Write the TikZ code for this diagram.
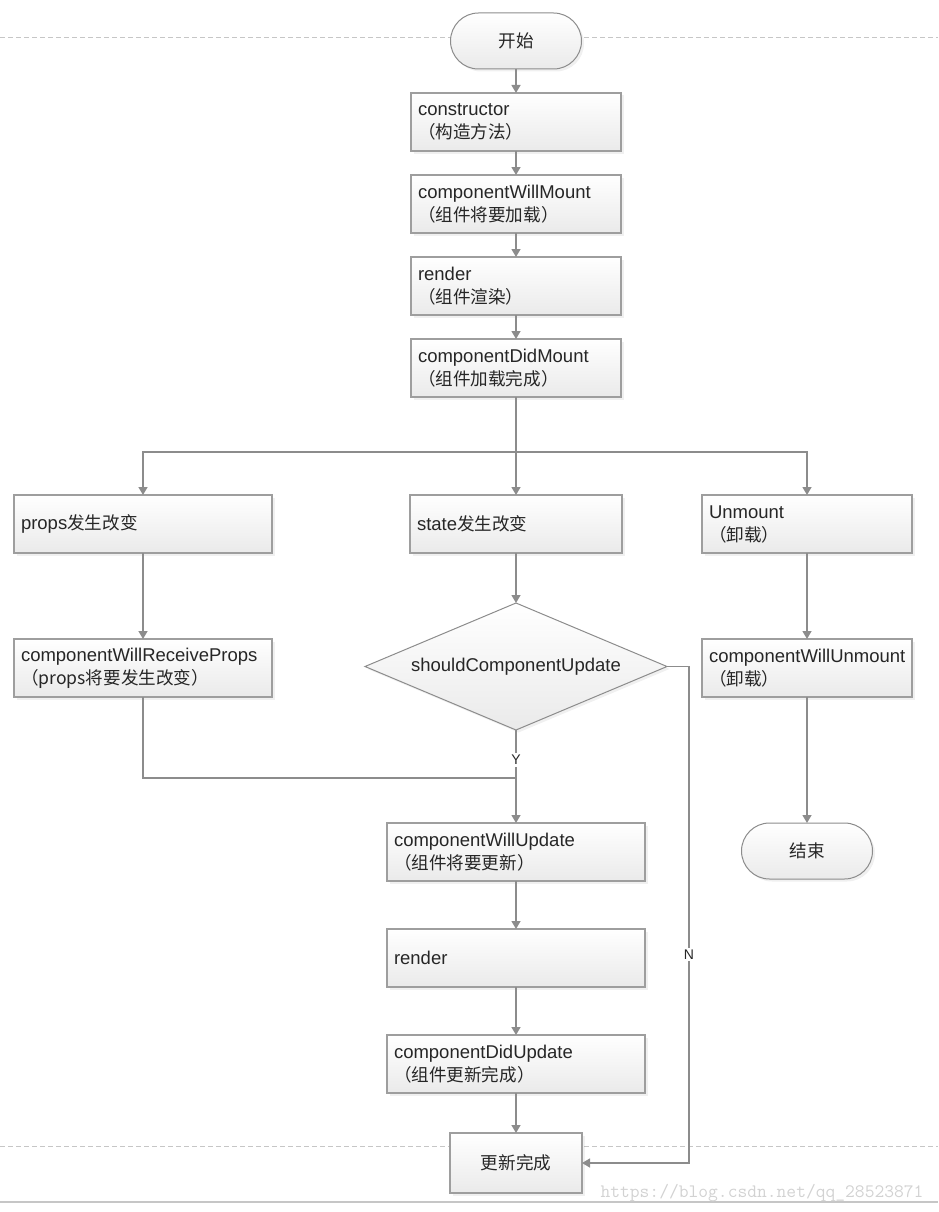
\documentclass[tikz,border=0pt]{standalone}
\usepackage{fontspec}
\setmainfont{Liberation Sans}
\newfontfamily\cjk[Scale=0.95]{Noto Sans CJK SC}
\usetikzlibrary{positioning,shapes.geometric,arrows.meta,shadows}

\definecolor{edgegray}{HTML}{8C8C8C}
\definecolor{boxgray}{HTML}{9E9E9E}
\definecolor{txtgray}{HTML}{262626}
\definecolor{fillgray}{HTML}{EAEAEA}

\tikzset{
  base/.style={draw=boxgray, line width=1.2pt, outer sep=0pt, top color=white, bottom color=fillgray,
    text=txtgray, font=\fontsize{18.5}{23}\selectfont,
    drop shadow={shadow xshift=2.5pt, shadow yshift=-2.5pt, opacity=0.12}},
  proc/.style={base, rectangle, minimum height=58pt, text width=#1, align=left,
    inner xsep=7pt, inner ysep=2pt},
  term/.style={base, rectangle, rounded corners=28pt, minimum width=131pt,
    minimum height=56pt, draw=edgegray, line width=1pt},
  donebox/.style={base, rectangle, minimum width=132pt, minimum height=60pt},
  decide/.style={base, diamond, aspect=2.38, inner sep=0pt, minimum width=302pt,
    minimum height=127pt, draw=edgegray, line width=1pt},
  flow/.style={draw=edgegray, line width=1.4pt, -{Triangle[width=9pt,length=8pt]}},
  link/.style={draw=edgegray, line width=1.4pt},
  yn/.style={fill=white, inner sep=2pt, text=txtgray, font=\fontsize{14}{16}\selectfont},
}

\begin{document}
\begin{tikzpicture}[x=1pt, y=-1pt]
    \useasboundingbox (0,0) rectangle (938,1212);
    % guide lines
    \draw[gray!45, dash pattern=on 5pt off 3pt] (0,37) -- (938,37);
    \draw[gray!45, dash pattern=on 5pt off 3pt] (0,1146) -- (938,1146);
    \draw[gray!45, line width=1.2pt] (0,1202) -- (938,1202);

    % mounting
    \node[term] (start) at (516,41) {\cjk{开始}};
    \node[proc=196pt] (ctor) [below=24pt of start] {constructor\\\cjk{（构造方法）}};
    \node[proc=196pt] (cwm) [below=24pt of ctor] {componentWillMount\\\cjk{（组件将要加载）}};
    \node[proc=196pt] (rend) [below=24pt of cwm] {render\\\cjk{（组件渲染）}};
    \node[proc=196pt] (cdm) [below=24pt of rend] {componentDidMount\\\cjk{（组件加载完成）}};

    % three branches
    \node[proc=198pt] (state) [below=98pt of cdm] {state\cjk{发生改变}};
    \node[proc=244pt] (props) [left=138pt of state] {props\cjk{发生改变}};
    \node[proc=196pt] (unmount) [right=80pt of state] {Unmount\\\cjk{（卸载）}};
    \node[decide] (scu) [below=50pt of state] {shouldComponentUpdate};
    \node[proc=244pt] (cwrp) [below=86pt of props] {componentWillReceiveProps\\\cjk{（}props\cjk{将要发生改变）}};
    \node[proc=196pt] (cwu) [below=86pt of unmount] {componentWillUnmount\\\cjk{（卸载）}};
    \node[term] (stop) [below=126pt of cwu] {\cjk{结束}};

    % updating
    \node[proc=244pt] (cwup) [below=93pt of scu] {componentWillUpdate\\\cjk{（组件将要更新）}};
    \node[proc=244pt] (rend2) [below=48pt of cwup] {render};
    \node[proc=244pt] (cdu) [below=48pt of rend2] {componentDidUpdate\\\cjk{（组件更新完成）}};
    \node[donebox] (done) [below=40pt of cdu] {\cjk{更新完成}};

    \coordinate[below=55pt of cdm] (fork);
    \coordinate[above=45pt of cwup] (join);
    \coordinate[right=22pt of scu] (nturn);

    \draw[flow] (start) -- (ctor);
    \draw[flow] (ctor) -- (cwm);
    \draw[flow] (cwm) -- (rend);
    \draw[flow] (rend) -- (cdm);
    \draw[link] (cdm) -- (fork);
    \draw[flow] (fork) -- (state);
    \draw[flow] (fork) -| (props);
    \draw[flow] (fork) -| (unmount);
    \draw[flow] (state) -- (scu);
    \draw[flow] (props) -- (cwrp);
    \draw[flow] (unmount) -- (cwu);
    \draw[flow] (cwu) -- (stop);
    \draw[link] (cwrp) |- (join);
    \draw[flow] (scu) -- node[yn, pos=0.32] {Y} (cwup);
    \draw[flow] (cwup) -- (rend2);
    \draw[flow] (rend2) -- (cdu);
    \draw[flow] (cdu) -- (done);
    \draw[flow] (scu.east) -- (nturn) |- node[yn, pos=0.29] {N} (done);

    \node[anchor=base east, text=gray!35, font=\ttfamily\fontsize{19}{20}\selectfont] (mark)
        at (927,1197) {https://blog.csdn.net/qq\_28523871};
\end{tikzpicture}
\end{document}
